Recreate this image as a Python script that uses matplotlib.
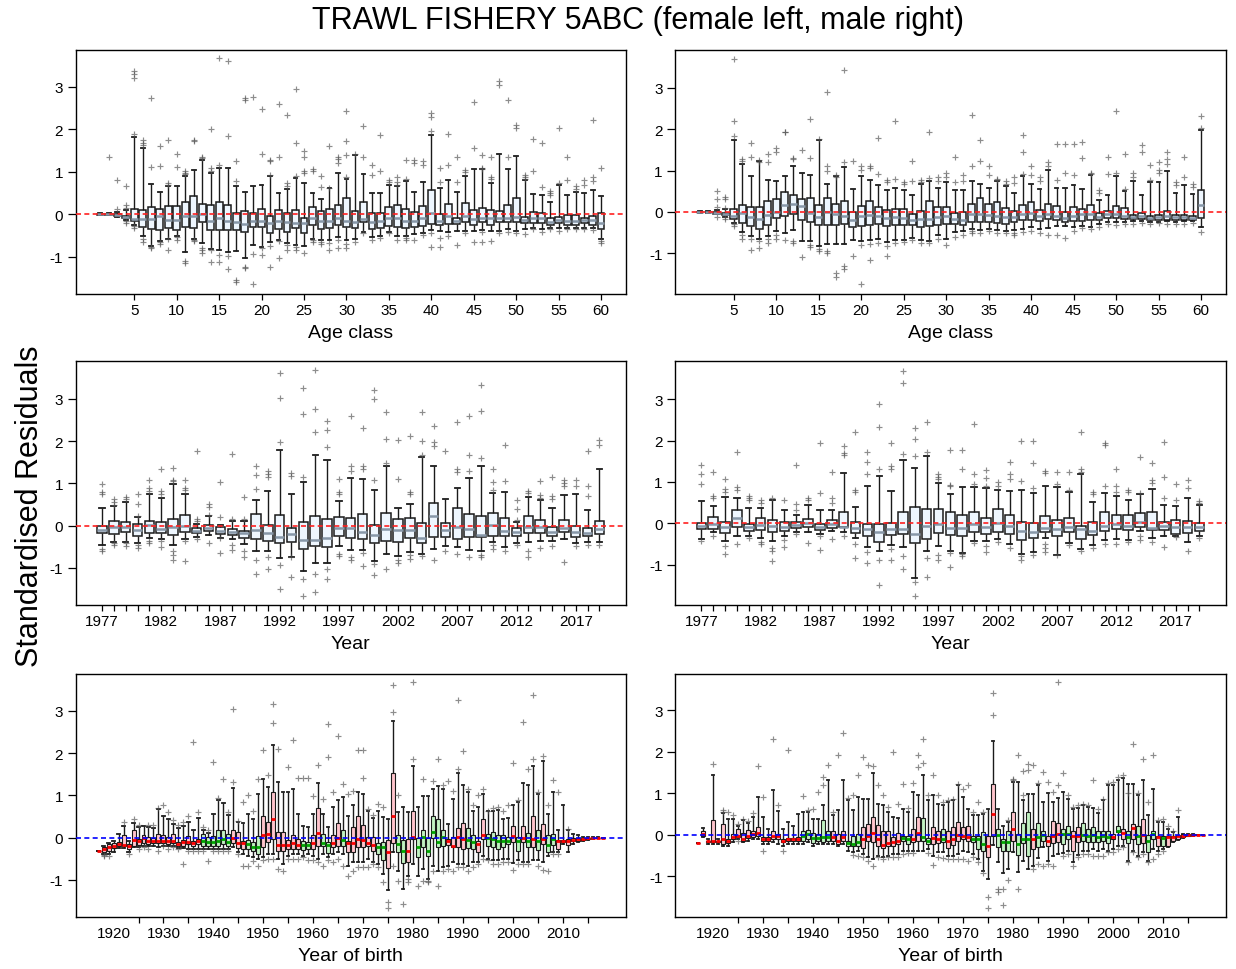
import matplotlib
matplotlib.use("Agg")
import matplotlib.pyplot as plt

plt.rcParams['font.family'] = ['Liberation Sans', 'DejaVu Sans']
plt.rcParams['axes.unicode_minus'] = False

# ---------------------------------------------------------------- categories
ages = list(range(1, 61))
years = list(range(1977, 2020))
cohorts = list(range(1917, 2019))

# ------------------------------------------------ female residuals by age
fa_q1 = [-0.01, -0.01, -0.04, -0.09, -0.16, -0.29, -0.34, -0.38, -0.32, -0.36,
         -0.30, -0.31, -0.17, -0.38, -0.36, -0.38, -0.36, -0.41, -0.29, -0.29,
         -0.44, -0.35, -0.42, -0.32, -0.43, -0.26, -0.35, -0.31, -0.24, -0.29,
         -0.33, -0.18, -0.35, -0.31, -0.28, -0.30, -0.32, -0.29, -0.27, -0.22,
         -0.26, -0.22, -0.22, -0.18, -0.24, -0.19, -0.24, -0.18, -0.18, -0.18,
         -0.21, -0.20, -0.20, -0.24, -0.20, -0.26, -0.24, -0.21, -0.24, -0.34]
fa_med = [0.00, 0.00, -0.02, -0.06, -0.10, -0.12, -0.12, -0.05, -0.13, -0.13,
          -0.04, -0.04, 0.00, -0.16, -0.08, -0.16, -0.18, -0.22, -0.16, -0.16,
          -0.20, -0.16, -0.17, -0.20, -0.20, -0.09, -0.16, -0.16, -0.09, -0.16,
          -0.18, -0.12, -0.17, -0.16, -0.08, -0.09, -0.16, -0.16, -0.09, 0.04,
          -0.16, -0.04, -0.16, -0.04, -0.12, -0.08, -0.08, -0.08, -0.08, -0.06,
          -0.14, -0.08, -0.09, -0.18, -0.13, -0.16, -0.16, -0.14, -0.14, -0.20]
fa_q3 = [0.01, 0.01, 0.00, -0.04, 0.12, 0.10, 0.17, 0.13, 0.19, 0.20,
         0.28, 0.42, 0.25, 0.23, 0.30, 0.22, 0.04, 0.07, 0.03, 0.13,
         -0.03, 0.10, 0.02, 0.10, -0.09, 0.17, 0.08, 0.13, 0.21, 0.39,
         0.09, 0.29, 0.02, 0.04, 0.17, 0.22, 0.13, 0.05, 0.19, 0.57,
         0.01, 0.24, -0.09, 0.27, 0.10, 0.15, 0.11, 0.09, 0.22, 0.39,
         -0.06, 0.05, 0.04, -0.09, -0.06, -0.02, -0.02, -0.08, -0.04, 0.02]
fa_lo = [-0.02, -0.02, -0.06, -0.13, -0.24, -0.51, -0.75, -0.63, -0.57, -0.51,
         -0.88, -0.57, -0.68, -0.81, -0.83, -0.88, -0.86, -1.02, -0.72, -0.76,
         -0.64, -0.61, -0.68, -0.72, -0.75, -0.57, -0.61, -0.61, -0.53, -0.61,
         -0.57, -0.42, -0.53, -0.50, -0.42, -0.51, -0.50, -0.47, -0.43, -0.37,
         -0.39, -0.42, -0.40, -0.39, -0.39, -0.37, -0.39, -0.39, -0.35, -0.39,
         -0.34, -0.32, -0.35, -0.31, -0.32, -0.31, -0.32, -0.32, -0.32, -0.57]
fa_hi = [0.02, 0.02, 0.05, 0.10, 1.83, 1.56, 0.72, 0.53, 0.66, 0.66,
         0.90, 1.05, 1.28, 0.97, 1.10, 1.09, 0.67, 0.53, 0.67, 0.68,
         0.90, 0.50, 0.59, 0.86, 0.73, 0.51, 0.37, 0.61, 0.97, 0.84,
         1.39, 0.94, 0.51, 0.51, 0.68, 0.67, 0.79, 0.53, 0.75, 1.87,
         0.61, 0.81, 0.52, 0.90, 1.06, 1.06, 0.73, 1.42, 1.06, 1.38,
         0.81, 0.47, 0.46, 0.29, 0.68, 0.46, 0.52, 0.51, 0.58, 0.43]
fa_out = [[], [1.36], [0.81, 0.12], [0.67, 0.22, 0.16, -0.16, -0.20], [3.37, 3.31, 3.22, 1.90, -0.28, -0.33],
          [1.75, 1.69, 1.63, -0.58, -0.65], [2.74, 1.12, -0.78, -0.80], [1.61, 1.14, -0.66, -0.70],
          [1.75, 0.74, 0.69, -0.59, -0.83], [1.42, 1.12, -0.53, -0.60],
          [1.03, 0.98, 0.94, -1.10, -1.15], [1.76, 1.72, -0.60, -0.63], [1.36, 1.32, -0.80, -0.85, -0.90],
          [2.02, 1.10, 1.03, -0.85, -1.13], [3.68, 1.17, -0.95, -1.13],
          [3.62, 1.85, -0.97, -1.28], [1.26, 0.78, -1.55, -1.60], [2.74, 2.68, -1.23, -1.27],
          [2.76, -0.93, -1.65], [2.49, 1.41, -0.80, -0.95],
          [1.28, 1.25, 0.93, -0.75, -1.24], [2.60, 1.36, -0.62, -1.02], [2.34, 0.73, 0.66, -0.72, -0.85],
          [2.94, 1.67, 0.91, -0.77, -0.85], [1.49, 1.34, 1.03, 0.98, -0.90],
          [1.07, 1.03, -0.60, -0.66], [0.90, 0.65, -0.65, -0.70], [1.61, 0.63, -0.68, -0.85],
          [1.35, 1.30, 1.22, -0.60, -0.80], [2.44, 1.73, 1.39, 0.88, -0.70, -0.80],
          [1.43, -0.65], [2.07, 1.34, -0.45], [1.17, 0.92, -0.60], [1.86, 1.01, -0.55], [0.81, 0.76, -0.45],
          [0.88, 0.75, 0.70, -0.60], [1.28, 0.84, -0.55, -0.60], [1.28, 1.20, -0.60], [1.26, 1.17, -0.48],
          [2.39, 2.29, 1.96, -0.45, -0.78],
          [1.08, 0.75, -0.55, -0.78], [1.90, 1.15, -0.50], [1.35, 0.75, -0.72], [1.05, 0.99, -0.45],
          [2.64, 1.55, -0.65],
          [1.39, 1.10, 1.07, -0.42, -0.66], [1.34, 0.88, 0.83, -0.63], [3.15, 3.05, -0.45], [2.70, 1.35, -0.42],
          [2.10, 2.04, -0.45],
          [0.93, 0.88, 0.84, -0.47], [1.78, 1.02, -0.35], [1.67, 0.64, -0.42], [0.55, 0.50, 0.45, -0.35],
          [2.03, 0.74, -0.40],
          [1.35, 0.80, -0.35], [0.66, 0.60, -0.34], [0.80, 0.70, -0.35], [2.21, 0.88, 0.79, -0.36],
          [1.10, -0.62, -0.67]]

# -------------------------------------------------- male residuals by age
ma_q1 = [-0.01, -0.01, -0.04, -0.08, -0.17, -0.27, -0.33, -0.40, -0.31, -0.14,
         -0.10, -0.06, -0.19, -0.24, -0.31, -0.31, -0.32, -0.28, -0.36, -0.35,
         -0.31, -0.29, -0.35, -0.32, -0.31, -0.32, -0.37, -0.35, -0.32, -0.29,
         -0.29, -0.31, -0.25, -0.25, -0.24, -0.27, -0.29, -0.25, -0.20, -0.20,
         -0.23, -0.17, -0.19, -0.24, -0.23, -0.21, -0.19, -0.19, -0.15, -0.15,
         -0.17, -0.17, -0.16, -0.19, -0.19, -0.19, -0.19, -0.19, -0.19, -0.15]
ma_med = [0.00, 0.00, -0.02, -0.05, -0.09, -0.02, -0.12, -0.17, -0.08, 0.00,
          0.16, 0.19, 0.14, -0.02, -0.13, -0.01, -0.06, -0.10, -0.20, -0.10,
          -0.08, -0.10, -0.14, -0.12, -0.14, -0.19, -0.16, -0.16, -0.12, -0.10,
          -0.17, -0.19, -0.04, -0.04, -0.08, -0.10, -0.13, -0.12, -0.06, -0.02,
          -0.10, -0.06, -0.10, -0.14, -0.10, -0.06, -0.06, -0.12, -0.06, -0.06,
          -0.10, -0.12, -0.10, -0.14, -0.13, -0.10, -0.13, -0.12, -0.14, 0.16]
ma_q3 = [0.01, 0.01, 0.00, -0.02, 0.07, 0.18, 0.12, 0.12, 0.26, 0.31,
         0.48, 0.41, 0.31, 0.33, 0.18, 0.34, 0.19, 0.26, 0.00, 0.15,
         0.26, 0.12, 0.04, 0.06, 0.07, -0.04, 0.03, 0.27, 0.11, 0.11,
         -0.02, 0.00, 0.19, 0.33, 0.19, 0.23, 0.10, 0.02, 0.17, 0.24,
         0.05, 0.20, 0.14, 0.00, 0.12, 0.07, 0.16, -0.02, 0.02, 0.14,
         0.10, -0.08, -0.02, -0.09, -0.07, 0.02, -0.08, -0.07, -0.10, 0.52]
ma_lo = [-0.02, -0.02, -0.06, -0.12, -0.27, -0.49, -0.59, -0.65, -0.59, -0.45,
         -0.52, -0.43, -0.71, -0.71, -0.83, -0.77, -0.77, -0.77, -0.67, -0.71,
         -0.68, -0.65, -0.73, -0.67, -0.67, -0.64, -0.67, -0.69, -0.55, -0.65,
         -0.48, -0.47, -0.40, -0.44, -0.40, -0.43, -0.47, -0.44, -0.40, -0.36,
         -0.41, -0.39, -0.35, -0.35, -0.36, -0.33, -0.36, -0.29, -0.25, -0.25,
         -0.24, -0.23, -0.23, -0.25, -0.24, -0.23, -0.25, -0.23, -0.23, -0.36]
ma_hi = [0.02, 0.02, 0.05, 0.06, 1.73, 1.17, 0.88, 1.22, 0.78, 0.74,
         0.88, 1.12, 0.93, 0.89, 1.73, 0.68, 0.86, 1.09, 0.56, 0.88,
         0.76, 0.64, 0.52, 0.58, 0.52, 0.42, 0.68, 0.74, 0.59, 0.72,
         0.52, 0.52, 0.74, 0.68, 0.58, 0.74, 0.62, 0.47, 0.86, 0.68,
         0.56, 1.02, 0.59, 0.59, 0.64, 0.56, 0.90, 0.28, 0.42, 0.88,
         0.50, 0.74, 0.40, 0.72, 0.72, 1.00, 0.46, 0.64, 0.44, 1.99]
ma_out = [[], [], [0.50, 0.31, 0.11, -0.13], [0.35, 0.31, 0.10, -0.13, -0.17], [3.70, 2.20, 1.83, -0.30, -0.33],
          [1.27, 1.22, -0.55, -0.65], [1.67, 1.33, -0.65, -0.92], [1.26, 1.20, -0.70, -0.87],
          [1.39, 1.20, -0.65, -0.75], [1.54, 1.45, -0.55, -0.65],
          [1.94, 1.92, -0.68], [1.30, 1.28, -0.70, -0.76], [1.50, -1.10], [2.25, 1.30, -0.80, -0.85],
          [1.76, -0.89, -0.95],
          [2.89, 1.12, 1.00, -0.95, -1.00], [0.90, 0.85, -1.47, -1.57], [3.43, 1.20, -1.30, -1.38], [1.23, -1.06],
          [1.12, 1.02, -0.80, -1.75],
          [1.12, 1.06, -0.77, -1.15], [1.79, 0.91, -0.74], [0.77, 0.73, -0.83, -1.07], [2.20, 0.80, -0.74],
          [0.73, 0.68, -0.72],
          [1.24, 0.75, -0.67], [0.76, 0.72, -0.75], [1.94, 0.82, -0.76], [0.85, 0.74, -0.65], [0.94, 0.85, -0.80],
          [1.32, 0.72, -0.60], [0.90, 0.75, -0.55], [2.34, 1.10, -0.45, -0.50], [1.74, 1.23, -0.50],
          [1.12, 0.89, -0.45],
          [0.80, 0.76, -0.50], [0.74, 0.68, -0.50], [0.84, 0.70, -0.50, -0.55], [1.85, 1.45, 0.92, -0.48],
          [1.10, 0.90, -0.45],
          [0.85, 0.75, -0.50], [1.20, 1.12, -0.55], [1.63, 0.77, -0.55], [1.63, 0.95, -0.62], [1.63, 0.89, -0.45],
          [1.68, 1.31, -0.38], [0.95, 0.92, -0.42], [0.53, 0.47, -0.37], [1.32, 0.92, -0.30], [2.45, 0.95, -0.32],
          [1.40, 0.55, -0.30], [0.95, 0.85, -0.28], [1.62, 1.45, -0.27], [1.13, 0.78, -0.30],
          [1.20, 1.02, 0.95, -0.27],
          [1.44, 1.27, 1.15, -0.30], [0.73, 0.66, -0.30], [1.32, 0.85, -0.28], [0.67, 0.60, -0.27],
          [2.32, 2.03, -0.48]]

# ----------------------------------------------- female residuals by year
fy_q1 = [-0.17, -0.20, -0.16, -0.25, -0.17, -0.17, -0.22, -0.14, -0.17, -0.12,
         -0.20, -0.21, -0.28, -0.32, -0.35, -0.42, -0.38, -0.55, -0.49, -0.51,
         -0.25, -0.30, -0.31, -0.42, -0.37, -0.39, -0.30, -0.40, -0.27, -0.27,
         -0.31, -0.27, -0.27, -0.24, -0.24, -0.24, -0.17, -0.17, -0.24, -0.16,
         -0.27, -0.25, -0.20]
fy_med = [-0.10, -0.04, -0.04, -0.09, 0.02, -0.08, -0.04, 0.00, -0.13, -0.06,
          -0.13, -0.16, -0.17, -0.09, -0.17, -0.26, -0.20, -0.33, -0.33, -0.29,
          -0.06, -0.06, -0.14, -0.22, -0.08, -0.10, -0.10, -0.28, 0.22, -0.10,
          -0.02, -0.08, -0.22, 0.02, -0.13, -0.14, -0.02, -0.02, -0.16, -0.05,
          -0.16, -0.17, -0.08]
fy_q3 = [0.00, 0.10, 0.09, 0.03, 0.11, 0.09, 0.17, 0.25, -0.06, 0.02,
         -0.03, -0.08, -0.12, 0.28, 0.02, 0.25, -0.06, 0.08, 0.22, 0.16,
         0.21, 0.19, 0.28, 0.02, 0.31, 0.17, 0.19, 0.06, 0.54, 0.07,
         0.41, 0.28, 0.24, 0.29, 0.18, -0.06, 0.22, 0.14, -0.02, 0.13,
         0.00, -0.06, 0.12]
fy_lo = [-0.46, -0.38, -0.38, -0.41, -0.30, -0.32, -0.46, -0.32, -0.26, -0.22,
         -0.28, -0.32, -0.43, -0.61, -0.59, -0.76, -0.73, -1.06, -0.88, -0.89,
         -0.49, -0.57, -0.57, -0.84, -0.67, -0.71, -0.63, -0.67, -0.55, -0.47,
         -0.50, -0.57, -0.60, -0.39, -0.51, -0.42, -0.39, -0.35, -0.37, -0.31,
         -0.42, -0.39, -0.39]
fy_hi = [0.43, 0.47, 0.55, 0.20, 0.75, 0.65, 0.98, 0.75, 0.05, 0.24,
         0.01, 0.12, 0.12, 0.61, 0.83, 1.80, 0.76, 1.04, 1.66, 1.56,
         0.59, 1.13, 1.10, 0.84, 1.40, 0.43, 0.51, 1.62, 1.40, 0.62,
         0.89, 1.12, 1.42, 0.77, 0.79, 0.08, 0.67, 0.61, 0.43, 0.73,
         0.75, 0.36, 1.35]
fy_out = [[0.98, 0.80, 0.74, -0.55, -0.60], [0.62, 0.55, 0.50, -0.42, -0.45], [0.67, 0.63, -0.42, -0.48],
          [0.74, 0.52, 0.23, -0.45, -0.52], [1.07, 0.88, 0.82, -0.35, -0.40],
          [1.34, 0.82, 0.75, -0.37, -0.50], [1.36, 1.07, 1.05, -0.60, -0.70, -0.80], [1.07, 0.90, 0.85, -0.35, -0.83],
          [1.77, 0.15, 0.10, -0.32], [0.52, 0.45, 0.26, -0.40],
          [1.03, 0.20, -0.30, -0.65], [1.70, 0.15, -0.45, -0.57], [0.67, 0.15, -0.60, -0.75],
          [1.42, 1.20, 0.87, -0.80, -1.15], [1.30, 1.22, 1.15, -0.75, -1.03],
          [3.60, 3.03, 1.97, -0.93, -1.50], [1.25, 1.18, -0.75, -1.22], [3.25, 2.65, 1.15, -1.27, -1.67],
          [3.68, 2.76, 2.22, -1.15, -1.57], [2.48, 2.27, 1.86, -1.03, -1.25],
          [1.10, 0.80, 0.75, -0.68, -0.72], [2.60, 1.40, 1.30, -0.75, -0.80], [2.31, 1.40, 1.35, -0.65, -0.96],
          [3.20, 3.00, 1.08, -0.90, -1.16], [2.70, 2.05, 1.48, -1.03],
          [2.03, 1.10, -0.80, -0.88], [2.11, 0.80, 0.75, -0.70, -0.78], [2.70, 2.00, 1.68, -0.72],
          [2.36, 1.97, 1.88, -0.80], [1.76, -0.60],
          [2.45, 1.35, 1.28, -0.68], [2.60, 1.67, 1.30, -0.75], [3.33, 2.71, 1.61, -0.70, -0.75],
          [1.35, 1.03, 0.85, -0.45, -0.55], [1.91, 1.05, -0.60],
          [0.60, 0.39, 0.13, -0.45], [0.82, 0.78, -0.60, -0.75], [1.05, 0.72, 0.66, -0.52],
          [1.15, 0.70, 0.62, -0.47], [1.08, 1.00, 0.95, -0.85],
          [1.08, 0.95, -0.48], [1.76, 0.95, 0.70, -0.45], [2.03, 1.90, -0.45]]

# ------------------------------------------------- male residuals by year
my_q1 = [-0.14, -0.14, -0.23, -0.08, -0.19, -0.16, -0.22, -0.18, -0.11, -0.08,
         -0.16, -0.11, -0.10, -0.23, -0.32, -0.46, -0.29, -0.27, -0.47, -0.39,
         -0.24, -0.28, -0.30, -0.22, -0.26, -0.22, -0.26, -0.40, -0.35, -0.22,
         -0.32, -0.22, -0.39, -0.28, -0.19, -0.14, -0.17, -0.10, -0.16, -0.16,
         -0.26, -0.24, -0.19]
my_med = [-0.07, -0.02, -0.10, 0.12, -0.10, -0.05, -0.07, -0.08, -0.04, 0.00,
          -0.10, -0.03, -0.08, -0.11, -0.15, -0.20, -0.14, -0.14, -0.26, -0.06,
          -0.02, -0.11, -0.11, -0.02, -0.08, 0.00, -0.06, -0.18, -0.22, -0.11,
          -0.14, -0.08, -0.15, -0.18, -0.06, -0.02, -0.07, 0.02, -0.11, -0.06,
          -0.10, -0.08, -0.10]
my_q3 = [0.00, 0.15, 0.02, 0.33, -0.03, 0.12, 0.09, 0.02, 0.02, 0.10,
         -0.03, 0.07, 0.28, 0.02, -0.01, -0.02, 0.01, 0.26, 0.39, 0.35,
         0.35, 0.27, 0.20, 0.27, 0.12, 0.35, 0.19, 0.02, 0.01, 0.18,
         0.07, 0.13, -0.06, 0.04, 0.27, 0.21, 0.19, 0.24, 0.26, 0.04,
         0.07, 0.06, 0.00]
my_lo = [-0.38, -0.22, -0.42, -0.30, -0.32, -0.36, -0.43, -0.32, -0.22, -0.20,
         -0.26, -0.19, -0.22, -0.36, -0.58, -0.68, -0.52, -0.58, -1.32, -0.66,
         -0.56, -0.68, -0.71, -0.42, -0.44, -0.38, -0.50, -0.74, -0.69, -0.35,
         -0.76, -0.48, -0.62, -0.52, -0.40, -0.38, -0.40, -0.18, -0.36, -0.31,
         -0.31, -0.46, -0.30]
my_hi = [0.53, 0.42, 0.64, 0.60, 0.36, 0.37, 0.55, 0.33, 0.19, 0.44,
         0.32, 0.33, 1.22, 0.40, 0.89, 1.14, 0.78, 1.54, 1.34, 1.63,
         0.97, 0.71, 0.87, 0.87, 0.85, 0.80, 0.79, 0.80, 0.72, 0.91,
         0.87, 0.75, 1.18, 0.51, 0.74, 0.65, 0.55, 0.71, 0.83, 0.44,
         0.42, 0.60, 0.43]
my_out = [[1.40, 1.20, 0.95, -0.42], [1.23, 0.65, 0.60, -0.30], [1.07, 0.83, 0.75, -0.55, -0.75],
          [1.72, 0.88, 0.80, -0.50], [0.67, 0.60, 0.55, -0.35],
          [0.57, 0.50, -0.45, -0.50], [0.60, -0.60, -0.68, -0.92], [0.55, -0.40, -0.58],
          [1.40, 0.47, 0.33, -0.27], [0.62, 0.55, -0.47],
          [1.95, 0.73, -0.30, -0.65], [1.23, 0.60, 0.50, -0.38], [1.86, 1.70, 1.65, -0.30],
          [2.20, 0.80, 0.75, -0.50, -0.85], [1.73, 1.47, 1.20, -0.70, -0.97],
          [2.88, 2.33, 1.30, -0.90, -1.49], [1.93, 1.38, 1.32, -0.63, -0.88], [3.67, 3.40, 1.68, -0.80, -1.10],
          [2.30, 2.03, 1.62, -1.42, -1.75], [2.45, 1.72, -0.85, -1.30],
          [1.20, 1.12, 1.06, -0.78, -0.89], [1.77, 0.93, 0.90, -0.72, -1.06], [1.78, 1.30, -0.75, -0.80],
          [2.40, 1.20, 0.95, -0.48], [1.29, 1.10, 0.90, -0.55, -0.70],
          [1.00, 0.90, -0.45], [1.48, 1.20, 1.07, -0.60], [2.00, 1.03, -0.80, -0.88],
          [2.00, 1.45, 0.86, -0.76], [1.27, 1.22, -0.50, -0.60, -0.70],
          [1.25, 0.95, -0.78], [1.25, 0.80, -0.52], [2.20, 1.30, 1.23, -0.66], [0.75, 0.70, -0.60],
          [1.95, 1.90, 0.90, -0.50],
          [1.30, 0.90, 0.75, -0.50], [0.80, 0.75, -0.45], [1.60, 0.73, -0.30, -0.40], [1.45, 1.05, 0.97, -0.45],
          [1.97, 1.12, 0.60, -0.58],
          [0.95, 0.55, -0.33], [1.04, 0.85, -0.66], [0.53, 0.50, -0.35]]

# --------------------------------------- female residuals by year of birth
fc_q1 = [-0.32, -0.35, -0.31,
         -0.25, -0.21, -0.21, -0.27, -0.19, -0.17, -0.13, -0.15, -0.13, -0.13,
         -0.13, -0.15, -0.13, -0.19, -0.19, -0.16, -0.19, -0.16, -0.19, -0.21,
         -0.19, -0.19, -0.16, -0.19, -0.13, -0.24, -0.27, -0.28, -0.32, -0.39,
         -0.23, -0.11, -0.03, -0.31, -0.32, -0.27, -0.27, -0.27, -0.29, -0.27,
         -0.27, -0.21, -0.21, -0.36, -0.23, -0.19, -0.19, -0.33, -0.35, -0.23,
         -0.23, -0.19, -0.32, -0.39, -0.52, -0.73, -0.13, -0.35, -0.61, -0.57,
         -0.03, -0.45, -0.23, -0.43, -0.02, -0.23, -0.19, -0.17, -0.23, -0.23,
         -0.27, -0.24, -0.27, -0.33, -0.03, -0.19, -0.23, -0.27, -0.23, -0.15,
         -0.11, -0.31, -0.11, -0.23, -0.23, -0.29, -0.15, -0.35, -0.17, -0.27,
         -0.11, -0.17, -0.09, -0.08, -0.06, -0.03, -0.02, -0.01, 0.00]
fc_med = [-0.32, -0.28, -0.23,
          -0.19, -0.16, -0.17, -0.19, -0.06, -0.09, -0.02, -0.09, -0.09, -0.09,
          -0.08, -0.09, -0.09, -0.15, -0.11, -0.11, -0.13, -0.09, -0.07, -0.11,
          -0.11, -0.07, -0.03, -0.11, -0.02, -0.13, -0.13, -0.15, -0.23, -0.23,
          0.07, 0.09, 0.43, -0.17, -0.17, -0.17, -0.13, -0.17, -0.17, -0.17,
          -0.13, 0.11, -0.13, -0.17, -0.13, -0.02, -0.06, -0.13, -0.13, -0.03,
          -0.05, -0.13, -0.17, -0.23, -0.23, -0.33, 0.52, -0.15, -0.31, -0.31,
          0.01, -0.23, 0.01, -0.31, 0.13, -0.11, 0.01, -0.09, -0.19, 0.01,
          -0.03, -0.05, -0.11, -0.15, 0.06, -0.02, -0.03, -0.07, -0.07, -0.07,
          0.03, -0.07, -0.02, -0.09, -0.03, -0.07, -0.03, -0.17, -0.03, -0.09,
          -0.07, -0.07, -0.06, -0.04, -0.03, -0.02, -0.01, 0.00, 0.00]
fc_q3 = [-0.32, -0.23, -0.15,
         -0.13, -0.11, 0.06, -0.15, 0.19, -0.03, 0.05, 0.01, 0.00, 0.09,
         0.05, 0.01, 0.08, -0.11, -0.06, 0.03, -0.07, -0.04, 0.09, 0.01,
         0.03, 0.19, 0.18, 0.09, 0.19, 0.14, -0.07, -0.06, -0.11, 0.03,
         0.52, 0.36, 1.07, 0.13, 0.13, -0.06, 0.06, -0.03, -0.07, -0.11,
         0.06, 0.70, 0.09, -0.11, 0.06, 0.35, 0.17, -0.07, 0.24, 0.50,
         0.29, 0.01, 0.01, -0.13, -0.11, -0.05, 1.53, 0.07, -0.06, -0.03,
         0.64, -0.02, 0.17, -0.02, 0.50, 0.44, 0.17, -0.03, 0.01, 0.23,
         0.35, 0.23, 0.07, -0.07, 0.43, 0.09, 0.14, 0.05, 0.05, 0.01,
         0.27, 0.01, 0.27, 0.10, 0.51, 0.17, 0.32, 0.06, 0.09, -0.06,
         -0.06, -0.03, -0.02, -0.01, -0.01, 0.00, 0.00, 0.00, 0.00]
fc_lo = [-0.32, -0.39, -0.39,
         -0.33, -0.25, -0.25, -0.35, -0.23, -0.23, -0.19, -0.21, -0.19, -0.23,
         -0.19, -0.20, -0.19, -0.25, -0.25, -0.27, -0.27, -0.27, -0.27, -0.27,
         -0.27, -0.27, -0.27, -0.27, -0.23, -0.35, -0.39, -0.43, -0.46, -0.50,
         -0.46, -0.39, -0.39, -0.50, -0.62, -0.43, -0.39, -0.39, -0.43, -0.39,
         -0.43, -0.50, -0.39, -0.46, -0.39, -0.35, -0.39, -0.66, -0.58, -0.57,
         -0.57, -0.50, -0.57, -0.62, -0.86, -1.23, -0.35, -0.80, -1.22, -0.90,
         -0.62, -0.90, -0.74, -0.98, -0.66, -0.78, -0.70, -0.66, -0.58, -0.62,
         -0.62, -0.66, -0.58, -0.57, -0.43, -0.50, -0.54, -0.54, -0.50, -0.50,
         -0.60, -0.54, -0.58, -0.57, -0.54, -0.54, -0.57, -0.43, -0.35, -0.35,
         -0.15, -0.35, -0.15, -0.11, -0.08, -0.05, -0.03, -0.01, 0.00]
fc_hi = [-0.32, -0.19, -0.12,
         -0.07, 0.09, 0.28, -0.07, 0.35, 0.24, 0.28, 0.26, 0.23, 0.68,
         0.50, 0.43, 0.31, 0.23, 0.28, 0.38, 0.17, 0.46, 0.18, 0.11,
         0.56, 0.88, 0.82, 0.54, 1.17, 0.36, 0.35, 0.56, 0.44, 1.03,
         1.39, 1.19, 2.20, 1.31, 1.07, 1.07, 1.15, 0.56, 0.28, 0.24,
         0.56, 1.29, 0.56, 0.26, 0.72, 0.88, 0.96, 0.52, 0.76, 1.09,
         1.03, 0.64, 0.46, 0.64, 0.48, 0.44, 2.75, 0.60, 0.72, 0.60,
         1.69, 0.72, 0.99, 0.99, 1.15, 1.23, 1.15, 0.33, 0.92, 1.52,
         1.25, 1.07, 0.64, 0.72, 1.03, 0.62, 0.64, 0.66, 0.44, 0.46,
         0.77, 0.85, 1.29, 1.25, 1.69, 1.03, 1.82, 0.56, 1.09, 0.17,
         0.76, 0.17, 0.09, 0.05, 0.02, 0.01, 0.01, 0.01, 0.00]
fc_out = [[], [-0.40, -0.43], [-0.43],
          [], [], [0.36], [-0.39], [0.44], [0.30, -0.28], [-0.23], [0.29, -0.27], [0.30], [0.70, -0.31],
          [0.76, -0.21], [0.60, -0.27], [0.42, -0.23], [0.29, -0.28], [0.38, -0.62], [0.52, -0.31], [2.26, -0.31],
          [0.60, -0.31], [0.25, -0.31], [0.17, -0.55],
          [1.79, -0.31], [0.93, -0.31], [1.39, -0.31], [0.60, -0.31], [3.05, 1.31], [0.40, -0.39], [0.84, -0.66],
          [1.00, -0.66], [0.64, -0.56], [1.39, -0.66],
          [2.06, -0.54], [1.47, -0.50], [3.17, 2.72, -0.50], [2.10, -0.74], [-0.78], [1.67, -0.50], [2.30, -0.50],
          [1.41, -0.50], [1.41, -0.46], [1.41, -0.54],
          [0.99, -0.54], [1.71, -0.58], [0.92, -0.66], [1.90, 2.69, -0.54], [1.07, -0.58], [2.40, -0.50],
          [1.27, -0.66], [1.03, -0.90], [1.11, -0.78], [2.06, -0.70],
          [2.06, 1.41, -0.70], [0.68, -0.70], [0.54, -0.62], [0.80, -0.70], [0.72, -1.04], [-1.52, -1.67],
          [2.97, 3.60, -0.66], [1.00, -1.02], [-1.57], [-0.98, -1.04],
          [1.86, 3.68], [-1.14], [1.39, -1.02], [-1.02, -1.06], [1.35, -0.78], [1.86, -1.15], [1.25, -0.80],
          [1.35, -0.74], [1.10, -0.78], [3.25, 1.63, -0.70],
          [2.04, -0.70], [1.15, -0.78], [0.76, -0.70], [1.00, -0.62], [1.15, -0.50], [0.64, -0.54], [0.70, -0.62],
          [0.72, -0.62], [0.62, -0.58], [0.76, -0.58],
          [1.77, -0.76], [0.90, -0.62], [2.73, -0.62], [1.63, -0.62], [3.36, 1.86], [1.07, -0.66], [1.93, -0.76],
          [0.76, -0.80], [1.37, -0.39], [1.07, -0.39],
          [], [0.21], [], [], [], [], [], [], []]
fc_fill = ('ppp' 'pppppppppp' 'ppppppppgg' 'ggggpppggg' 'ppppppppgg' 'ppggppgppp'
           'pppggppggp' 'pggggggppp' 'pggppggggg' 'pgpgpgpggp' 'ppppppppp')

# ----------------------------------------- male residuals by year of birth
mc_q1 = [-0.19, -0.03, -0.18,
         -0.18, -0.18, -0.22, -0.19, -0.11, -0.06, -0.14, -0.08, -0.06, -0.02,
         -0.14, -0.15, -0.11, -0.10, -0.18, -0.16, -0.16, -0.16, -0.14, -0.10,
         -0.19, -0.16, -0.18, -0.16, -0.14, -0.22, -0.16, -0.26, -0.26, -0.26,
         -0.31, -0.16, -0.18, -0.26, -0.31, -0.26, -0.26, -0.22, -0.16, -0.22,
         -0.18, -0.14, -0.14, -0.22, -0.22, -0.20, -0.18, -0.32, -0.24, -0.16,
         -0.10, -0.14, -0.18, -0.34, -0.40, -0.54, -0.03, -0.30, -0.38, -0.38,
         -0.14, -0.48, -0.19, -0.51, -0.34, -0.30, -0.16, -0.28, -0.19, -0.18,
         -0.22, -0.11, -0.38, -0.18, -0.16, -0.18, -0.18, -0.18, -0.16, -0.19,
         -0.11, 0.06, -0.10, -0.19, -0.11, -0.22, -0.19, -0.42, -0.10, -0.26,
         -0.26, -0.26, -0.14, -0.10, -0.06, -0.02, -0.01, 0.00, 0.00]
mc_med = [-0.19, 0.02, -0.16,
          -0.15, -0.16, -0.11, -0.15, -0.06, -0.02, -0.10, -0.02, 0.01, 0.04,
          -0.10, -0.11, -0.04, -0.04, -0.14, -0.11, -0.11, -0.11, -0.03, 0.01,
          -0.08, -0.08, -0.06, -0.06, -0.06, -0.16, -0.06, -0.19, -0.22, -0.18,
          -0.11, -0.02, 0.04, -0.11, -0.24, -0.19, -0.18, -0.14, -0.08, -0.11,
          -0.11, 0.05, -0.06, -0.14, -0.08, -0.10, -0.10, -0.14, -0.10, 0.00,
          -0.04, -0.06, -0.11, -0.11, -0.22, -0.26, 0.51, 0.00, -0.18, -0.18,
          0.13, -0.22, -0.10, -0.10, -0.10, -0.06, 0.00, -0.14, -0.03, 0.01,
          0.02, 0.02, -0.02, -0.04, 0.00, -0.02, 0.00, -0.06, -0.02, -0.06,
          -0.06, 0.08, 0.04, -0.06, 0.16, -0.02, 0.00, -0.14, 0.01, -0.06,
          -0.08, -0.06, -0.06, -0.03, -0.02, -0.01, 0.00, 0.00, 0.00]
mc_q3 = [-0.19, 0.08, -0.14,
         0.35, -0.14, 0.27, -0.11, 0.02, 0.13, 0.05, 0.11, 0.08, 0.18,
         -0.06, -0.06, 0.10, 0.02, -0.10, -0.08, -0.08, -0.06, 0.10, 0.12,
         0.04, 0.01, 0.35, 0.09, 0.08, 0.02, 0.10, -0.14, -0.02, 0.01,
         0.18, 0.27, 0.43, 0.24, 0.09, 0.08, -0.06, 0.05, -0.02, -0.02,
         0.14, 0.44, 0.40, -0.08, 0.18, 0.10, 0.14, 0.08, 0.18, 0.31,
         0.18, 0.22, -0.02, -0.04, 0.06, -0.02, 1.23, 0.14, -0.11, 0.08,
         0.55, 0.02, 0.28, 0.55, 0.13, 0.28, 0.09, -0.02, 0.32, 0.29,
         0.14, 0.22, 0.10, 0.18, 0.28, 0.13, 0.18, 0.10, 0.10, 0.10,
         0.02, 0.22, 0.14, 0.08, 0.27, 0.22, 0.37, 0.00, 0.10, -0.02,
         -0.02, -0.02, -0.02, 0.00, 0.01, 0.01, 0.01, 0.00, 0.00]
mc_lo = [-0.19, -0.06, -0.22,
         -0.22, -0.21, -0.26, -0.26, -0.18, -0.11, -0.18, -0.14, -0.11, -0.10,
         -0.22, -0.22, -0.18, -0.22, -0.26, -0.22, -0.22, -0.22, -0.22, -0.18,
         -0.26, -0.22, -0.22, -0.22, -0.22, -0.26, -0.22, -0.38, -0.42, -0.40,
         -0.46, -0.54, -0.58, -0.50, -0.54, -0.50, -0.46, -0.46, -0.38, -0.38,
         -0.38, -0.38, -0.38, -0.34, -0.50, -0.42, -0.42, -0.50, -0.50, -0.46,
         -0.38, -0.42, -0.46, -0.58, -0.86, -1.06, -0.24, -0.66, -0.92, -0.82,
         -0.42, -0.90, -0.64, -0.82, -0.74, -0.56, -0.30, -0.64, -0.50, -0.46,
         -0.44, -0.38, -0.66, -0.48, -0.40, -0.38, -0.34, -0.38, -0.34, -0.38,
         -0.34, -0.26, -0.26, -0.62, -0.38, -0.50, -0.42, -0.62, -0.34, -0.38,
         -0.34, -0.30, -0.18, -0.12, -0.08, -0.04, -0.02, 0.00, 0.00]
mc_hi = [-0.19, 0.16, -0.10,
         1.45, -0.10, 0.53, 0.37, 0.37, 0.22, 0.35, 0.29, 0.43, 0.91,
         0.43, 0.14, 1.07, 0.57, 0.14, 0.31, 0.22, 0.51, 0.55, 0.55,
         0.39, 0.39, 0.71, 1.31, 0.47, 0.59, 1.33, 0.83, 0.59, 0.91,
         0.87, 0.85, 1.49, 0.75, 0.71, 0.55, 0.43, 0.40, 0.63, 0.55,
         1.03, 0.95, 1.45, 0.83, 0.96, 0.75, 0.71, 0.79, 0.83, 1.20,
         0.91, 0.63, 0.47, 0.47, 0.51, 0.63, 2.25, 0.63, 0.22, 0.31,
         1.27, 1.27, 0.83, 0.99, 0.99, 1.19, 0.79, 1.00, 0.79, 0.88,
         1.03, 0.87, 0.63, 0.64, 0.71, 0.67, 0.64, 0.53, 0.83, 1.19,
         1.19, 1.33, 1.37, 1.23, 1.23, 0.95, 1.33, 0.47, 1.11, 0.31,
         0.31, 0.14, 0.06, 0.43, 0.03, 0.02, 0.01, 0.00, 0.00]
mc_out = [[], [], [],
          [1.71], [], [0.56, 0.59], [0.56], [0.47], [0.27, -0.16], [0.37], [0.32], [0.53], [1.65],
          [0.91, -0.38], [], [2.31], [0.72], [-0.38], [2.03], [], [], [0.93], [0.60],
          [0.63], [1.03], [1.20, 1.40], [1.69], [0.55], [1.93], [2.45], [0.88], [0.95, -0.48], [1.43, -0.50],
          [1.87, -0.54], [1.67, -0.62], [1.65, -0.74], [1.19, -0.54], [0.95, -0.58], [0.67, -0.54], [1.98, -0.54],
          [0.75, -0.54], [1.23, -0.46], [0.65, -0.44],
          [1.25, -0.44], [1.63, 1.93], [2.31, 1.73], [0.96, -0.44], [1.43, -0.72], [0.96, -0.54], [0.79, -0.56],
          [0.83, -0.58], [0.87, -0.58], [1.23, -0.58],
          [1.10, -0.58], [1.19, -0.62], [0.55, -0.54], [0.79, -0.66], [0.55, -0.92], [-1.49, -1.76], [2.88, 3.42],
          [-1.30, -1.38], [-1.30, -1.70], [0.35, -1.08],
          [1.31, 1.35], [1.93, -1.30], [1.53, 0.95], [1.71, 1.55], [1.67, -0.82], [1.25, -0.70], [1.51, -0.74],
          [1.27, -0.70], [1.03, -0.74], [3.68, 1.19],
          [1.49, -0.50], [0.95, -0.46], [0.67, -0.74], [0.72, -0.54], [0.75, -0.46], [0.71, -0.46], [1.31, -0.50],
          [0.63, -0.50], [0.87, -0.50], [1.25, -0.42],
          [1.27, -0.42], [1.40, -0.34], [1.45, -0.30], [1.00, -0.66], [2.19, -0.42], [1.00, -0.54], [1.83, -0.46],
          [0.79, -0.66], [1.91, -0.58], [0.35, -0.46],
          [0.39, -0.40], [0.22], [0.10], [0.59], [], [], [], [], []]
mc_fill = ('ppp' 'pppppppppp' 'ppppppppgg' 'ggggpppggg' 'ppppppppgg' 'ppggppgppp'
           'ppgggppggg' 'pgggpggppp' 'ggppgggggg' 'pgpgpgpggp' 'gpppppppp')

# ------------------------------------------------------------------ styles
W, H = 1236, 970
BLUE_FILL = '#EEF6FE'
BLUE_MED = '#8797A8'
PINK = '#FFC4CC'
GREEN = '#C2F2C2'
RED_MED = '#FF0000'
GREEN_MED = '#00A800'
FLIER = dict(marker='+', markersize=4.8, markeredgewidth=0.85, markeredgecolor='#505050',
             alpha=0.65, linestyle='none')


def add_axes_px(fig, x0, y0, x1, y1):
    return fig.add_axes([x0 / W, 1 - y1 / H, (x1 - x0) / W, (y1 - y0) / H])


def draw_boxes(ax, pos, q1, med, q3, lo, hi, out, fills, medcols, lw_box, lw_med):
    n = len(pos)
    for arr in (q1, med, q3, lo, hi, out, fills, medcols):
        assert len(arr) == n, (len(arr), n)
    stats = [dict(q1=a, med=b, q3=c, whislo=d, whishi=e, fliers=f)
             for a, b, c, d, e, f in zip(q1, med, q3, lo, hi, out)]
    art = ax.bxp(stats, positions=pos, widths=0.8, capwidths=0.45, patch_artist=True,
                 manage_ticks=False,
                 boxprops=dict(edgecolor='#1a1a1a', linewidth=lw_box),
                 whiskerprops=dict(color='#1a1a1a', linewidth=1.0, solid_capstyle='butt'),
                 capprops=dict(color='#1a1a1a', linewidth=1.3),
                 medianprops=dict(linewidth=lw_med, solid_capstyle='butt'),
                 flierprops=FLIER)
    for b, fc in zip(art['boxes'], fills):
        b.set_facecolor(fc)
    for m, mc in zip(art['medians'], medcols):
        m.set_color(mc)


def style_axes(ax):
    for s in ax.spines.values():
        s.set_linewidth(1.0)
        s.set_color('black')
    ax.tick_params(axis='x', direction='out', length=4.5, width=0.9, labelsize=11, pad=2, colors='black')
    ax.tick_params(axis='y', direction='out', length=6, width=0.9, labelsize=11, pad=3, colors='black')
    ax.set_yticks([-1, 0, 1, 2, 3])
    ax.set_yticklabels(['-1', '0', '1', '2', '3'])


fig = plt.figure(figsize=(W / 100, H / 100), dpi=100)

# panel rectangles in pixels (left, top, right, bottom)
rects = {
    'fa': (75.7, 50.7, 625.7, 294.5), 'ma': (675.0, 50.7, 1225.7, 294.5),
    'fy': (75.7, 362.3, 625.7, 606.0), 'my': (675.0, 361.7, 1225.7, 605.7),
    'fc': (75.7, 674.5, 625.7, 917.7), 'mc': (675.0, 674.5, 1225.7, 917.7),
}
ylims = {'fa': (-1.863, 3.875), 'ma': (-1.97, 3.92), 'fy': (-1.875, 3.887),
         'my': (-1.97, 3.93), 'fc': (-1.87, 3.88), 'mc': (-1.97, 3.88)}

age_panels = {'fa': (fa_q1, fa_med, fa_q3, fa_lo, fa_hi, fa_out),
              'ma': (ma_q1, ma_med, ma_q3, ma_lo, ma_hi, ma_out)}
year_panels = {'fy': (fy_q1, fy_med, fy_q3, fy_lo, fy_hi, fy_out),
               'my': (my_q1, my_med, my_q3, my_lo, my_hi, my_out)}
cohort_panels = {'fc': (fc_q1, fc_med, fc_q3, fc_lo, fc_hi, fc_out, fc_fill),
                 'mc': (mc_q1, mc_med, mc_q3, mc_lo, mc_hi, mc_out, mc_fill)}

# residuals by age class
for key, (q1, med, q3, lo, hi, out) in age_panels.items():
    ax = add_axes_px(fig, *rects[key])
    n = len(ages)
    draw_boxes(ax, ages, q1, med, q3, lo, hi, out, [BLUE_FILL] * n, [BLUE_MED] * n, 1.1, 1.8)
    ax.axhline(0, color='#FF2020', lw=1.2, ls=(0, (3, 2)), zorder=6)
    ax.set_xlim(ages[0] - 0.5 - 0.04 * n, ages[-1] + 0.5 + 0.04 * n)
    ax.set_ylim(*ylims[key])
    style_axes(ax)
    ax.set_xticks(list(range(5, 61, 5)))
    ax.set_xticklabels([str(a) for a in range(5, 61, 5)])
    ax.text(0.5, -0.158, 'Age class', transform=ax.transAxes, ha='center', va='center', fontsize=14)

# residuals by year
for key, (q1, med, q3, lo, hi, out) in year_panels.items():
    ax = add_axes_px(fig, *rects[key])
    n = len(years)
    draw_boxes(ax, years, q1, med, q3, lo, hi, out, [BLUE_FILL] * n, [BLUE_MED] * n, 1.1, 1.8)
    ax.axhline(0, color='#FF2020', lw=1.2, ls=(0, (3, 2)), zorder=6)
    ax.set_xlim(years[0] - 0.5 - 0.04 * n, years[-1] + 0.5 + 0.04 * n)
    ax.set_ylim(*ylims[key])
    style_axes(ax)
    ax.set_xticks(years)
    ax.set_xticklabels([str(y) if (y - 1977) % 5 == 0 else '' for y in years])
    ax.text(0.5, -0.16, 'Year', transform=ax.transAxes, ha='center', va='center', fontsize=14)

# residuals by year of birth
for key, (q1, med, q3, lo, hi, out, fill) in cohort_panels.items():
    ax = add_axes_px(fig, *rects[key])
    n = len(cohorts)
    fills = [PINK if c == 'p' else GREEN for c in fill]
    medcols = [RED_MED if c == 'p' else GREEN_MED for c in fill]
    draw_boxes(ax, cohorts, q1, med, q3, lo, hi, out, fills, medcols, 0.8, 2.0)
    ax.axhline(0, color='#0000FF', lw=1.2, ls=(0, (3, 2)), zorder=6)
    ax.set_xlim(cohorts[0] - 0.5 - 0.04 * n, cohorts[-1] + 0.5 + 0.04 * n)
    ax.set_ylim(*ylims[key])
    style_axes(ax)
    ticks = list(range(1920, 2016, 5))
    ax.set_xticks(ticks)
    ax.set_xticklabels([str(t) if t % 10 == 0 else '' for t in ticks])
    ax.xaxis.get_major_ticks()[0].tick1line.set_visible(False)
    ax.text(0.5, -0.16, 'Year of birth', transform=ax.transAxes, ha='center', va='center', fontsize=14)

fig.text(637.5 / W, 1 - 21 / H, 'TRAWL FISHERY 5ABC (female left, male right)',
         ha='center', va='center', fontsize=22)
fig.text(30 / W, 1 - 506 / H, 'Standardised Residuals', rotation=90,
         ha='center', va='center', fontsize=22)

fig.savefig('out.png', dpi=100)
